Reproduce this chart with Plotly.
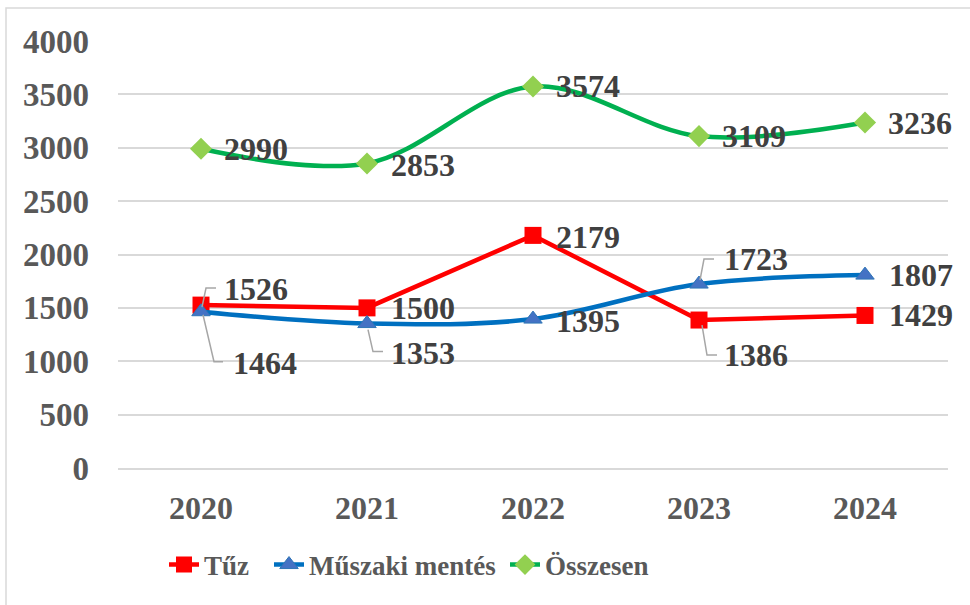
import plotly.graph_objects as go

# ---- data ----
years = ["2020", "2021", "2022", "2023", "2024"]
tuz = [1526, 1500, 2179, 1386, 1429]
muszaki = [1464, 1353, 1395, 1723, 1807]
osszesen = [2990, 2853, 3574, 3109, 3236]
series_names = ["Tűz", "Műszaki mentés", "Összesen"]
y_ticks = [0, 500, 1000, 1500, 2000, 2500, 3000, 3500, 4000]

# ---- styling ----
FONT = "Liberation Serif"
LABEL_COLOR = "#404040"
TICK_COLOR = "#595959"
GRID = "#d9d9d9"

# label offsets (px): dx to label left edge, dy down-positive of label center
tuz_off = [(23, -16), (24, 0), (23, 2), (25, 35), (24, 0)]
mus_off = [(32, 51), (24, 29), (23, 2), (25, -25), (24, 0)]
ossz_off = [(23, 0), (24, 2), (23, 0), (23, 0), (23, 0)]
# leader lines (pixel path relative to point, y up-positive)
tuz_lead = {0: [(1, -2), (5, 17), (15, 17)], 3: [(3, -5), (8, -35), (18, -35)]}
mus_lead = {0: [(2, -3), (13, -50), (22, -50)], 1: [(1, -6), (6, -28), (16, -28)],
            3: [(1, 4), (5, 25), (15, 25)]}

fig = go.Figure()
fig.add_trace(go.Scatter(
    x=years, y=tuz, name=series_names[0], mode="lines+markers",
    line=dict(color="#FF0000", width=4.5),
    marker=dict(symbol="square", size=17, color="#FF0000"),
    legend="legend"))
fig.add_trace(go.Scatter(
    x=years, y=muszaki, name=series_names[1], mode="lines+markers",
    line=dict(color="#0070C0", width=4.5, shape="spline", smoothing=1),
    marker=dict(symbol="triangle-up", size=16, color="#4472C4",
                line=dict(color="#2E75B6", width=1)),
    legend="legend2"))
fig.add_trace(go.Scatter(
    x=years, y=osszesen, name=series_names[2], mode="lines+markers",
    line=dict(color="#00B050", width=4.5, shape="spline", smoothing=1),
    marker=dict(symbol="diamond", size=17, color="#92D050"),
    legend="legend3"))

annotations = []
shapes = []
for vals, offs, leads in [(tuz, tuz_off, tuz_lead), (muszaki, mus_off, mus_lead),
                          (osszesen, ossz_off, {})]:
    for i, (yr, v) in enumerate(zip(years, vals)):
        dx, dy = offs[i]
        annotations.append(dict(
            x=i, y=v, xref="x", yref="y", text=str(v), showarrow=False,
            xanchor="left", yanchor="middle", xshift=dx - 2, yshift=-dy,
            font=dict(family=FONT, size=32, color=LABEL_COLOR, weight="bold")))
        if i in leads:
            pts = leads[i]
            path = "M{},{} L{},{} L{},{}".format(*[c for p in pts for c in p])
            shapes.append(dict(
                type="path", xref="x", yref="y", xsizemode="pixel", ysizemode="pixel",
                xanchor=i, yanchor=v, path=path,
                line=dict(color="#A6A6A6", width=1.5)))

# outer chart border
L, R, T, B = 118, 22, 41, 137
PW, PH = 970 - L - R, 605 - T - B
def px2paper_x(px):
    return (px - L) / PW
def px2paper_y(py):
    return (605 - B - py) / PH
shapes.append(dict(type="rect", xref="paper", yref="paper",
                   x0=px2paper_x(6), x1=px2paper_x(990),
                   y0=px2paper_y(640), y1=px2paper_y(8),
                   line=dict(color=GRID, width=1.5), layer="below"))

legend_font = dict(family=FONT, size=27, color=TICK_COLOR, weight="bold")
def leg(px):
    return dict(x=px2paper_x(px), y=px2paper_y(565), xanchor="left", yanchor="middle",
                orientation="h", font=legend_font, bgcolor="rgba(0,0,0,0)")

fig.update_layout(
    width=970, height=605,
    margin=dict(l=L, r=R, t=T, b=B),
    paper_bgcolor="white", plot_bgcolor="white",
    showlegend=True,
    legend=leg(164), legend2=leg(269), legend3=leg(505),
    annotations=annotations, shapes=shapes,
    xaxis=dict(type="category", range=[-0.5, 4.5], showgrid=False,
               showline=True, linecolor=GRID, linewidth=1.5, ticks="",
               tickfont=dict(family=FONT, size=32, color=TICK_COLOR, weight="bold"),
               ticklabelstandoff=11),
    yaxis=dict(range=[0, 4000], tickvals=y_ticks, showgrid=True,
               gridcolor=GRID, gridwidth=1.5, zeroline=False, showline=False,
               ticks="",
               tickfont=dict(family=FONT, size=33, color=TICK_COLOR, weight="bold"),
               ticklabelstandoff=28),
)

fig.write_html("out.html", config={"displayModeBar": False},
               post_script="document.body.style.margin='0';")
